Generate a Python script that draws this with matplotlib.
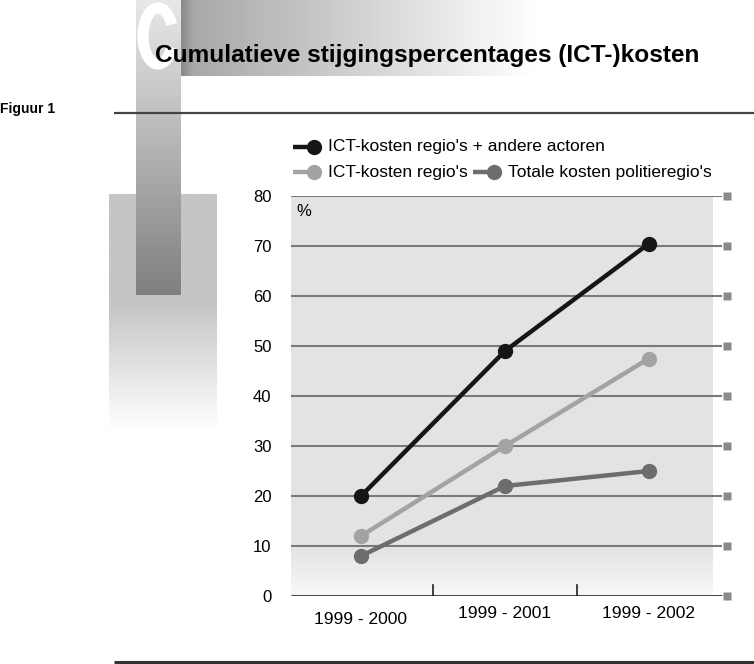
import numpy as np
import matplotlib
matplotlib.use("Agg")
import matplotlib.pyplot as plt
from matplotlib.patches import Arc

plt.rcParams['font.family'] = ['Liberation Sans', 'DejaVu Sans']

# ---- data ----
categories = ["1999 - 2000", "1999 - 2001", "1999 - 2002"]
series_names = ["ICT-kosten regio's + andere actoren",
                "ICT-kosten regio's",
                "Totale kosten politieregio's"]
ict_andere = [20, 49, 70.5]
ict_regios = [12, 30, 47.5]
totale = [8, 22, 25]
yticks = [0, 10, 20, 30, 40, 50, 60, 70, 80]
title = "Cumulatieve stijgingspercentages (ICT-)kosten"

colors = ["#161616", "#a3a3a3", "#6d6d6d"]

W, H = 754, 664
fig = plt.figure(figsize=(W / 100, H / 100), dpi=100)

# ---- decoration layer in pixel coordinates ----
bg = fig.add_axes([0, 0, 1, 1])
bg.axis('off')

def vgrad(ax, x0, x1, y0, y1, vals, z):
    g = np.asarray(vals).reshape(-1, 1)
    ax.imshow(g, extent=(x0, x1, y1, y0), cmap='gray', vmin=0, vmax=1,
              aspect='auto', zorder=z, interpolation='bilinear')

def hgrad(ax, x0, x1, y0, y1, vals, z):
    g = np.asarray(vals).reshape(1, -1)
    ax.imshow(g, extent=(x0, x1, y1, y0), cmap='gray', vmin=0, vmax=1,
              aspect='auto', zorder=z, interpolation='bilinear')

# lower light block: flat then fading to white
vgrad(bg, 109, 217, 194, 432,
      np.concatenate([np.full(45, 0.77), np.linspace(0.77, 1.0, 55)]), 1)
# horizontal title band
hgrad(bg, 181, 540, 0, 76,
      np.concatenate([np.linspace(0.55, 0.66, 4), np.linspace(0.66, 1.0, 96)]), 2)
# vertical bar
vgrad(bg, 136, 181, 0, 295, np.linspace(0.91, 0.50, 100), 3)
bg.set_xlim(0, W)
bg.set_ylim(H, 0)

# decorative initial (drawn as white arc)
bg.add_patch(Arc((158, 36), 30, 56, theta1=40, theta2=320, color='white',
                 lw=8, zorder=4))

# title
bg.text(155, 62, title, fontsize=17.6, fontweight='bold', color='black',
        ha='left', va='baseline', zorder=5)
# Figuur 1
bg.text(0, 113, "Figuur 1", fontsize=10, fontweight='bold', color='black',
        ha='left', va='baseline', zorder=5)
# rules
bg.plot([114, W], [113, 113], color="#444444", lw=1.6, zorder=5, solid_capstyle='butt')
bg.plot([114, W], [661.5, 661.5], color="#333333", lw=2.2, zorder=5, solid_capstyle='butt')

# ---- chart ----
px = 144.0
x_left, x_right, x_bg = 291, 732, 713
ax = fig.add_axes([x_left / W, 1 - 596 / H, (x_right - x_left) / W, 400 / H])
xmin = -(361 - x_left) / px
xmax = (x_right - 361) / px
xbg = (x_bg - 361) / px
ax.patch.set_alpha(0)
for s in ax.spines.values():
    s.set_visible(False)

grad = np.concatenate([np.linspace(0.965, 0.89, 10), np.full(70, 0.89)])
ax.imshow(grad.reshape(-1, 1), extent=(xmin, xbg, 0, 80), cmap='gray',
          vmin=0, vmax=1, aspect='auto', zorder=0, interpolation='bilinear', origin='lower')
ax.set_xlim(xmin, xmax)
ax.set_ylim(0, 80)

for v in yticks:
    if v == 0:
        ax.plot([xmin, xmax - 0.07], [v, v], color="#333333", lw=2.0, zorder=1,
                solid_capstyle='butt')
    else:
        ax.plot([xmin, xmax - 0.07], [v, v], color="#7a7a7a", lw=1.5, zorder=1,
                solid_capstyle='butt')
    ax.plot([xmax - 0.035], [v], marker='s', ms=5.5, color="#8a8a8a", mec='none',
            zorder=1, clip_on=False)

# category separator ticks
for t in [0.5, 1.5]:
    ax.plot([t, t], [0, 2.2], color="#222222", lw=1.2, zorder=2)

x = np.arange(len(categories))
for vals, c in zip([ict_andere, ict_regios, totale], colors):
    ax.plot(x, vals, color=c, lw=3.2, marker='o', ms=10, mec=c, mfc=c, zorder=3)

ax.set_yticks(yticks)
ax.set_yticklabels([str(v) for v in yticks], fontsize=12)
ax.tick_params(axis='y', length=0, pad=14)
ax.set_xticks([])
label_y = [-4.8, -3.6, -3.6]
for xi, lab, ly in zip(x, categories, label_y):
    ax.text(xi, ly, lab, ha='center', va='center', fontsize=12.5, clip_on=False)

ax.text(xmin + 0.04, 77, "%", fontsize=12, ha='left', va='center')

# legend rows
def leg(xp, yp, color, text):
    bg.plot([xp, xp + 22], [yp, yp], color=color, lw=3.2, solid_capstyle='butt', zorder=6)
    bg.plot([xp + 21], [yp], marker='o', ms=10, color=color, zorder=6)
    bg.text(xp + 35, yp, text, fontsize=12.5, ha='left', va='center', zorder=6)

leg(293, 147, colors[0], series_names[0])
leg(293, 172, colors[1], series_names[1])
leg(473, 172, colors[2], series_names[2])

fig.savefig("out.png", dpi=100)
